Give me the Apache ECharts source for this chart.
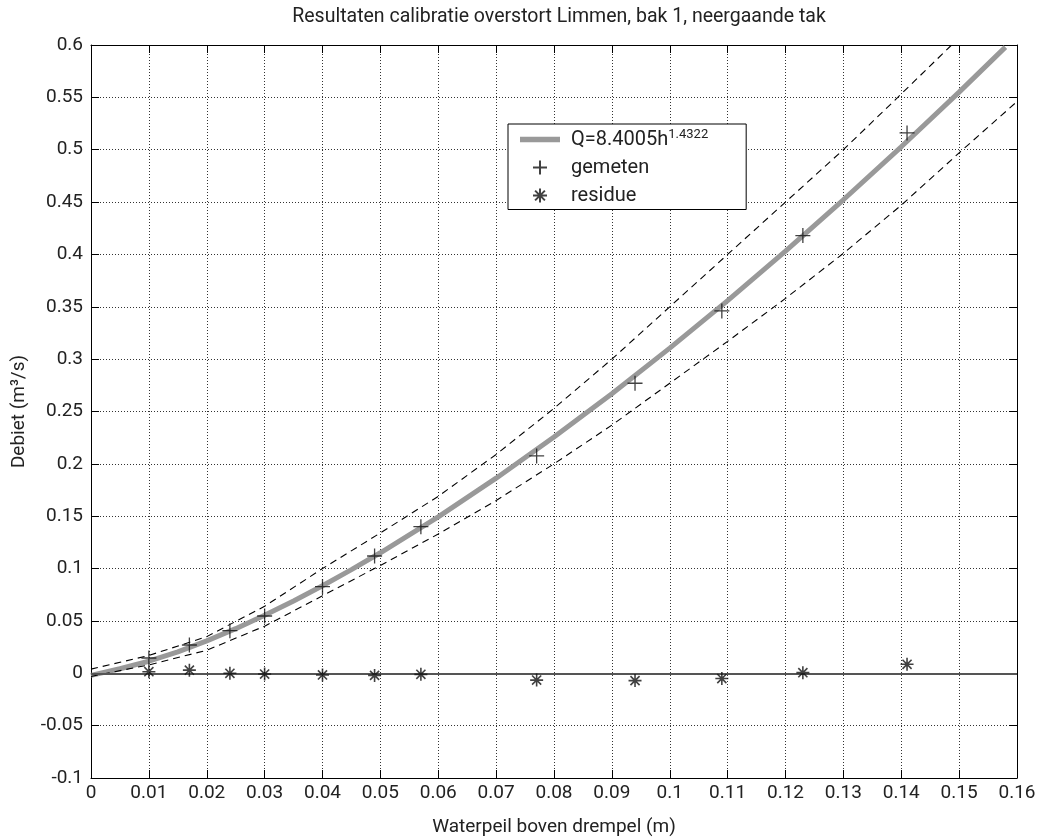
<!DOCTYPE html>
<html>
<head>
<meta charset="utf-8">
<script src="https://cdn.jsdelivr.net/npm/echarts@6/dist/echarts.min.js"></script>
<style>
html,body{margin:0;padding:0;background:#fff;}
#chart{width:1041px;height:838px;}
</style>
</head>
<body>
<div id="chart"></div>
<script>
// Measured points (gemeten)
var measH = [0.010, 0.017, 0.024, 0.030, 0.040, 0.049, 0.057, 0.077, 0.094, 0.109, 0.123, 0.141];
var measQ = [0.0146, 0.027, 0.0407, 0.0547, 0.0827, 0.112, 0.140, 0.2076, 0.277, 0.346, 0.418, 0.516];
// Residues
var resid = [0.0015, 0.003, 0.000, -0.0007, -0.0016, -0.002, -0.001, -0.0065, -0.007, -0.005, 0.0006, 0.0086];
// Fitted curve
var fitH = [0, 0.005, 0.01, 0.015, 0.02, 0.025, 0.03, 0.035, 0.04, 0.045, 0.05, 0.06, 0.07, 0.08, 0.09, 0.10, 0.11, 0.12, 0.13, 0.14, 0.15, 0.158];
var fitQ = [-0.002, 0.0043, 0.0115, 0.0205, 0.031, 0.0426, 0.0554, 0.0691, 0.0836, 0.099, 0.1151, 0.1494, 0.1863, 0.2256, 0.267, 0.3105, 0.3559, 0.4031, 0.4522, 0.5028, 0.555, 0.598];
// Upper confidence band
var upH = [0, 0.01, 0.02, 0.03, 0.04, 0.05, 0.06, 0.07, 0.08, 0.09, 0.10, 0.11, 0.12, 0.13, 0.1394, 0.1487];
var upQ = [0.004, 0.017, 0.035, 0.064, 0.100, 0.134, 0.169, 0.209, 0.253, 0.300, 0.350, 0.400, 0.450, 0.500, 0.550, 0.600];
// Lower confidence band
var loH = [0, 0.01, 0.02, 0.03, 0.04, 0.05, 0.06, 0.07, 0.08, 0.09, 0.10, 0.11, 0.12, 0.13, 0.14, 0.15, 0.16];
var loQ = [-0.003, 0.008, 0.022, 0.045, 0.074, 0.103, 0.133, 0.165, 0.200, 0.237, 0.277, 0.317, 0.358, 0.401, 0.447, 0.497, 0.546];

var titleText = 'Resultaten calibratie overstort Limmen, bak 1, neergaande tak';
var xName = 'Waterpeil boven drempel (m)';
var yName = 'Debiet (m\u00B3/s)';

function pairs(a, b) { return a.map(function (v, i) { return [v, b[i]]; }); }

var FONT = 'Roboto';
var TXT = '#222';
var plusPath = 'path://M0,-10 L0,10 M-10,0 L10,0';
var starPath = 'path://M0,-10 L0,10 M-10,0 L10,0 M-7,-7 L7,7 M-7,7 L7,-7';
var lineIcon = 'path://M0,0 L38,0 L38,5 L0,5 Z';

var chart = echarts.init(document.getElementById('chart'), null, {renderer: 'canvas'});
var gridLine = {show: true, lineStyle: {color: '#333', width: 1, type: [1, 2]}};
var axisLineBlack = {show: true, onZero: false, lineStyle: {color: '#000', width: 1}};
var tickIn = {show: true, inside: true, length: 8, lineStyle: {color: '#000', width: 1}};

var option = {
  backgroundColor: '#fff',
  animation: false,
  textStyle: {fontFamily: FONT},
  title: {
    text: titleText, left: 554, top: 2, textAlign: 'center',
    textStyle: {fontFamily: FONT, fontSize: 19.5, fontWeight: 'normal', color: TXT}
  },
  grid: {left: 91, right: 24, top: 45, bottom: 60, containLabel: false, outerBoundsMode: 'none'},
  legend: {
    data: [{name: 'fit', icon: lineIcon}, 'gemeten', 'residue'],
    orient: 'vertical', left: 508, top: 124,
    backgroundColor: '#fff', borderColor: '#000', borderWidth: 1, borderRadius: 0,
    padding: [4, 38, 4, 12], itemGap: 8, itemWidth: 40, itemHeight: 14,
    formatter: function (n) { return n === 'fit' ? '{a|Q=8.4005h}{s|1.4322}' : n; },
    textStyle: {
      fontFamily: FONT, fontSize: 20, color: TXT, padding: [0, 0, 0, 6],
      rich: {a: {fontFamily: FONT, fontSize: 20, color: TXT},
             s: {fontFamily: FONT, fontSize: 13, color: TXT, verticalAlign: 'bottom', padding: [0, 0, 10, 0]}}
    }
  },
  xAxis: [{
    type: 'value', min: 0, max: 0.16, interval: 0.01,
    name: xName, nameLocation: 'middle', nameGap: 40,
    nameTextStyle: {fontFamily: FONT, fontSize: 19, color: TXT},
    axisLine: axisLineBlack, axisTick: tickIn, splitLine: gridLine,
    axisLabel: {fontFamily: FONT, fontSize: 19, color: TXT, margin: 6}
  }, {
    type: 'value', min: 0, max: 0.16, interval: 0.01, position: 'top',
    axisLine: axisLineBlack, axisTick: tickIn, splitLine: {show: false}, axisLabel: {show: false}
  }],
  yAxis: [{
    type: 'value', min: -0.1, max: 0.6, interval: 0.05,
    name: yName, nameLocation: 'middle', nameGap: 62,
    nameTextStyle: {fontFamily: FONT, fontSize: 19, color: TXT},
    axisLine: axisLineBlack, axisTick: tickIn, splitLine: gridLine,
    axisLabel: {fontFamily: FONT, fontSize: 19, color: TXT, margin: 8}
  }, {
    type: 'value', min: -0.1, max: 0.6, interval: 0.05, position: 'right',
    axisLine: axisLineBlack, axisTick: tickIn, splitLine: {show: false}, axisLabel: {show: false}
  }],
  series: [
    {
      name: 'lower', type: 'line', data: pairs(loH, loQ), showSymbol: false, symbol: 'none',
      lineStyle: {color: '#000', width: 1.1, type: [7, 5]}, z: 3, silent: true
    },
    {
      name: 'upper', type: 'line', data: pairs(upH, upQ), showSymbol: false, symbol: 'none',
      lineStyle: {color: '#000', width: 1.1, type: [7, 5]}, z: 3, silent: true
    },
    {
      name: 'fit', type: 'line', data: pairs(fitH, fitQ), showSymbol: false, symbol: 'none',
      color: '#999', itemStyle: {color: '#999'}, lineStyle: {color: '#999', width: 5}, z: 2, silent: true
    },
    {
      name: 'gemeten', type: 'scatter', data: pairs(measH, measQ),
      symbol: plusPath, symbolSize: 15, symbolKeepAspect: true,
      itemStyle: {color: 'none', borderColor: '#111', borderWidth: 1.3}, z: 5
    },
    {
      name: 'residue', type: 'scatter', data: pairs(measH, resid),
      symbol: starPath, symbolSize: 13, symbolKeepAspect: true,
      itemStyle: {color: 'none', borderColor: '#111', borderWidth: 1.6}, z: 5,
      markLine: {
        silent: true, symbol: ['none', 'none'], label: {show: false},
        lineStyle: {color: '#555', width: 2, type: 'solid'},
        data: [{yAxis: 0}]
      }
    }
  ]
};
chart.setOption(option);
</script>
</body>
</html>
